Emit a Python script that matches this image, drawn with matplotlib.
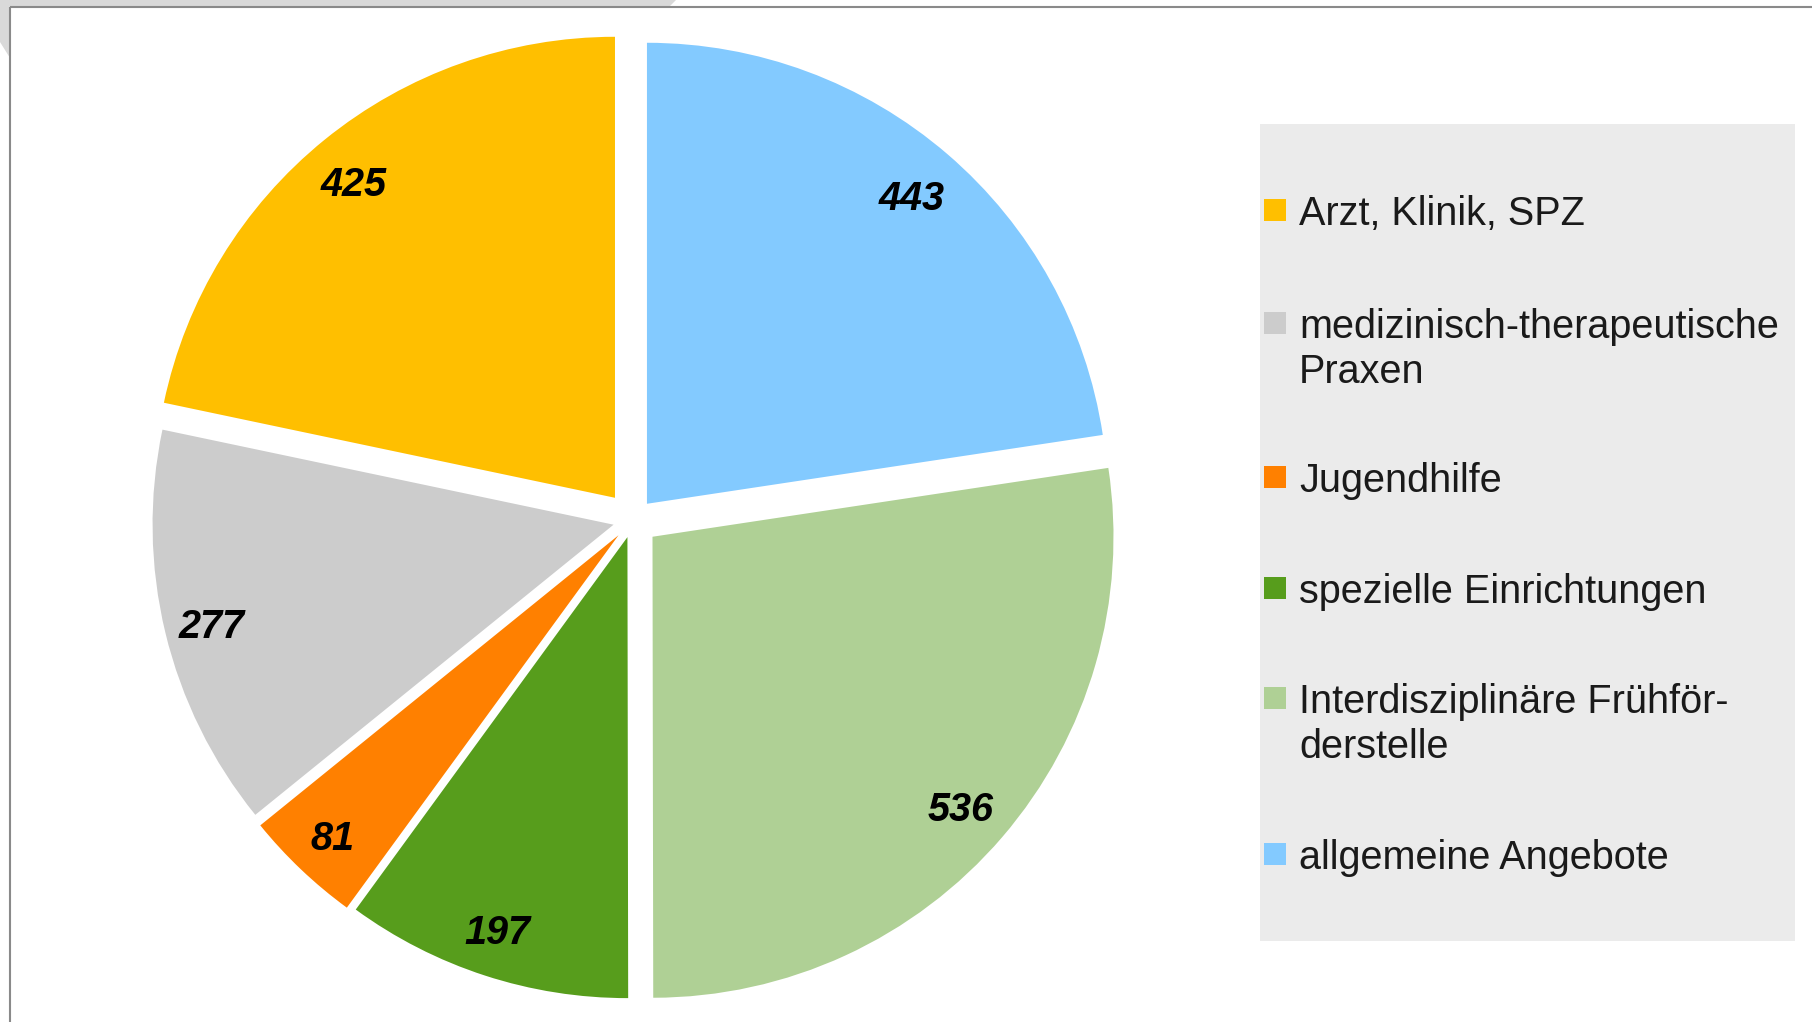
import matplotlib
matplotlib.use("Agg")
import matplotlib.pyplot as plt
from matplotlib.patches import Rectangle, Polygon
from matplotlib.transforms import ScaledTranslation

# ---- data ----
categories = ["Arzt, Klinik, SPZ",
              "medizinisch-therapeutische\nPraxen",
              "Jugendhilfe",
              "spezielle Einrichtungen",
              "Interdisziplinäre Frühför-\nderstelle",
              "allgemeine Angebote"]
values = [425, 277, 81, 197, 536, 443]
colors = ["#ffbf00", "#cccccc", "#ff8000", "#579d1c", "#afd095", "#83caff"]

# ---- layout / style ----
explode = [28.6, 20, 21, 18, 25.7, 21.4]   # in pixels (data units)
W, H = 1812, 1022
DPI = 100
FONT = "Liberation Sans"
FS = 28.5

fig = plt.figure(figsize=(W / DPI, H / DPI), dpi=DPI)
fig.patch.set_facecolor("white")
ax = fig.add_axes([0, 0, 1, 1])

total = sum(values)
wedges, texts, autotexts = ax.pie(
    values, explode=explode, colors=colors, startangle=90, counterclock=True,
    radius=461, center=(633, H - 520),
    autopct=lambda p: f"{p * total / 100:.0f}", pctdistance=0.89,
    textprops=dict(fontsize=FS, fontweight="bold", fontstyle="italic",
                   color="black", family=FONT),
    wedgeprops=dict(linewidth=0))
# small visual-centering offset of the value labels (glyph centre vs. text box centre)
shift = ScaledTranslation(-3 / DPI, -6 / DPI, fig.dpi_scale_trans)
for t in autotexts:
    t.set_transform(t.get_transform() + shift)

ax.set_xlim(0, W)
ax.set_ylim(0, H)
ax.set_aspect("equal")
ax.axis("off")

# ---- frame decoration ----
ax.add_patch(Polygon([(0, H), (676, H), (669, H - 7), (10, H - 7), (10, H - 58), (0, H - 42)],
                     closed=True, facecolor="#d9d9d9", edgecolor="none", zorder=0))
ax.plot([10, W], [H - 7, H - 7], color="#8a8a8a", lw=1.5, solid_capstyle="butt")
ax.plot([10, 10], [H - 7, 0], color="#8a8a8a", lw=1.5, solid_capstyle="butt")

# ---- legend ----
ax.add_patch(Rectangle((1260, H - 941), 535, 817, facecolor="#ebebeb",
                       edgecolor="none", zorder=1))
baselines = [224, 337, 491, 602, 712, 868]
for lab, col, b in zip(categories, colors, baselines):
    ax.add_patch(Rectangle((1264, H - (b - 3)), 22, 22, facecolor=col,
                           edgecolor="none", zorder=2))
    ax.text(1299, H - (b - 29), lab, va="top", ha="left", fontsize=FS,
            family=FONT, color="#1a1a1a", linespacing=1.23, zorder=3)

fig.savefig("out.png", dpi=DPI, facecolor="white")
